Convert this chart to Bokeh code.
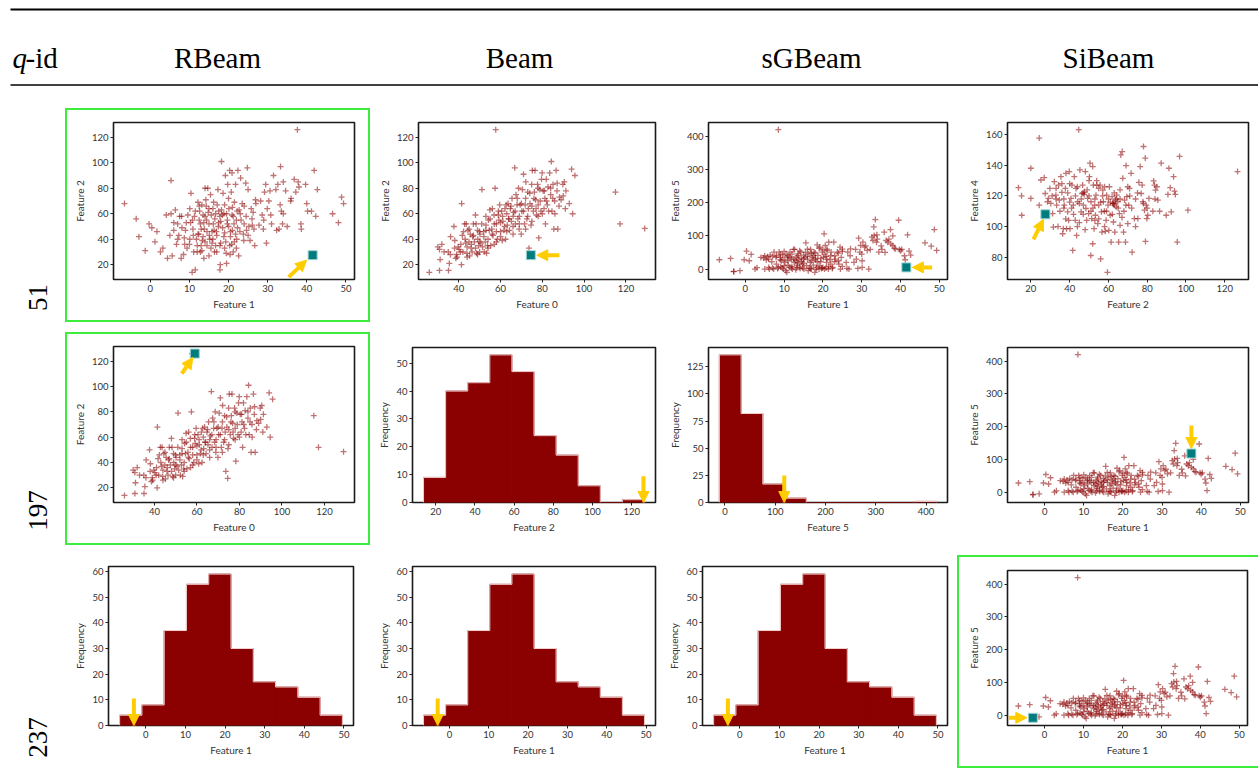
import numpy as np
from bokeh.plotting import figure
from bokeh.layouts import row, column
from bokeh.models import Range1d, FixedTicker, Arrow, NormalHead, Spacer
from bokeh.core.properties import value
from bokeh.embed import file_html
from bokeh.resources import INLINE

# ---------------------------------------------------------------- data
methods = ["RBeam", "Beam", "sGBeam", "SiBeam"]
query_ids = ["51", "197", "237"]

# Feature 1 vs Feature 2
pts_f1_f2 = [
    (-6.6, 68), (-3.6, 56), (-2.9, 42), (-1.3, 31), (-0.3, 52), (0.4, 49), (1.2, 38), (1.7, 46), (2.6, 30), (3.2, 33),
    (4.1, 59), (4.4, 25), (5.0, 43), (5.3, 86), (5.6, 27), (5.3, 60), (6.0, 53), (6.4, 63), (6.7, 36), (7.0, 52),
    (7.3, 43), (7.5, 58), (7.9, 25), (8.1, 49), (8.5, 28), (8.7, 41), (9.2, 53), (9.4, 33), (9.6, 59), (10.1, 40),
    (10.1, 64), (10.3, 53), (10.4, 76), (10.7, 14), (10.9, 48), (11.1, 30), (11.3, 58), (11.5, 16), (12.0, 35), (12.2, 69),
    (12.4, 44), (12.6, 62), (12.8, 52), (12.8, 30), (13.2, 67), (13.3, 39), (13.5, 59), (13.7, 25), (13.8, 48), (14.0, 80),
    (14.2, 71), (14.4, 55), (14.5, 35), (14.7, 80), (15.0, 64), (15.1, 43), (15.4, 75), (15.6, 59), (15.8, 37), (16.1, 52),
    (16.2, 69), (16.4, 30), (16.7, 60), (16.9, 46), (17.1, 67), (17.3, 79), (17.5, 53), (17.8, 16), (17.8, 35), (17.9, 20),
    (18.2, 101), (18.4, 59), (18.6, 76), (18.8, 42), (19.0, 67), (19.2, 90), (19.4, 29), (19.5, 21), (19.7, 55), (19.8, 83),
    (20.1, 64), (20.3, 94), (20.3, 35), (20.5, 46), (20.7, 77), (20.9, 92), (20.9, 59), (21.2, 30), (21.4, 52), (21.5, 69),
    (21.8, 83), (22.1, 40), (22.2, 62), (22.4, 94), (22.6, 27), (22.9, 46), (23.1, 88), (23.2, 55), (23.5, 68), (23.9, 39),
    (24.4, 84), (24.6, 47), (24.8, 96), (25.0, 79), (25.2, 50), (25.5, 39), (26.1, 51), (26.3, 61), (26.5, 48), (26.7, 35),
    (26.9, 71), (27.8, 51), (28.2, 70), (28.6, 59), (28.9, 48), (29.2, 77), (29.5, 83), (29.7, 37), (29.9, 64), (30.3, 70),
    (30.6, 78), (30.8, 59), (31.5, 90), (32.1, 79), (32.3, 47), (32.6, 83), (32.9, 48), (33.2, 67), (33.3, 97), (33.5, 62),
    (33.8, 52), (34.0, 85), (34.6, 78), (35.9, 70), (36.8, 87), (37.2, 77), (37.6, 126), (37.8, 85), (38.0, 81), (38.5, 52),
    (38.6, 48), (39.7, 83), (40.0, 68), (40.2, 62), (41.2, 62), (41.9, 94), (42.3, 58), (42.7, 79), (46.6, 60), (48.1, 53),
    (48.9, 73), (49.4, 68), (41.5, 27.5),
    (12.5, 55), (13.0, 48), (13.5, 42), (14.0, 38), (14.5, 46), (15.0, 52), (15.5, 33), (16.0, 40), (16.5, 56), (17.0, 43),
    (17.5, 62), (18.0, 37), (18.5, 49), (19.0, 33), (19.5, 60), (20.0, 50), (20.5, 42), (21.0, 65), (21.5, 38), (22.0, 55),
    (11.0, 43), (11.5, 62), (12.0, 30), (12.5, 66), (13.0, 35), (14.0, 58), (15.0, 27), (16.0, 64), (17.0, 30), (18.0, 54),
    (19.0, 45), (20.0, 72), (21.0, 47), (22.0, 33), (23.0, 60), (24.0, 52), (9.0, 47), (10.0, 36), (8.0, 58), (7.0, 40),
    (13.2, 31), (14.8, 61), (16.3, 47), (17.8, 58), (19.3, 38), (20.8, 36), (22.3, 49), (23.8, 44), (24.5, 58), (25.0, 43),
    (12.2, 44), (13.7, 53), (15.2, 40), (16.7, 35), (18.2, 63), (19.7, 52), (21.2, 58), (22.7, 63), (6.0, 47), (10.8, 55),
    (14.3, 66), (17.4, 50), (20.4, 28), (24.0, 66), (26.0, 56), (27.0, 68), (31.0, 52), (34.0, 60), (36.0, 72), (29.0, 55),
    (35.0, 50), (8.8, 36), (11.8, 40), (15.8, 46), (18.8, 60), (21.8, 44), (25.8, 64),
]

# Feature 0 vs Feature 2
pts_f0_f2 = [
    (25.9, 14), (30.0, 34), (30.8, 32), (31.1, 24), (30.8, 15.5), (31.9, 36), (35.0, 30), (35.1, 15.5), (35.5, 21), (36.1, 42),
    (37.7, 50), (38.1, 39), (38.6, 25), (39.2, 26), (39.7, 34), (40.2, 32), (40.8, 30), (41.3, 20), (41.4, 68), (41.7, 43),
    (42.3, 46), (42.8, 52), (43.3, 37), (43.6, 52), (43.9, 29), (44.4, 47), (44.9, 38), (45.2, 27), (45.5, 44), (45.9, 33),
    (46.4, 30), (46.7, 42), (47.5, 38), (48.0, 59), (48.3, 52), (48.6, 29), (49.1, 40), (49.5, 35), (49.9, 46), (50.2, 44),
    (50.6, 37), (51.1, 79), (51.4, 34), (51.9, 46), (52.2, 30), (52.7, 38), (53.0, 51), (53.3, 29), (53.8, 35), (54.2, 55),
    (54.6, 47), (54.9, 63), (55.3, 35), (55.8, 48), (56.1, 64), (56.4, 43), (56.9, 59), (57.4, 80), (57.7, 126), (58.0, 52),
    (58.5, 40), (58.9, 59), (59.2, 55), (59.6, 67), (60.0, 46), (60.5, 62), (60.8, 39), (61.1, 54), (61.6, 47), (62.1, 64),
    (62.4, 40), (62.7, 67), (63.2, 51), (63.6, 68), (63.9, 56), (64.3, 47), (64.7, 64), (65.2, 54), (65.5, 72), (66.0, 44),
    (66.3, 61), (66.8, 96), (67.1, 52), (67.4, 75), (67.9, 67), (68.3, 56), (68.6, 80), (68.9, 48), (69.4, 67), (69.9, 44),
    (70.2, 62), (70.5, 79), (71.0, 91), (71.5, 52), (71.8, 67), (72.1, 85), (72.6, 56), (73.0, 77), (73.3, 64), (73.6, 33),
    (74.1, 68), (74.6, 51), (74.9, 83), (75.2, 94), (75.7, 62), (76.2, 77), (76.5, 94), (76.8, 71), (77.2, 59), (77.7, 83),
    (78.0, 67), (78.3, 41), (78.8, 79), (79.3, 62), (79.6, 87), (79.9, 92), (80.4, 78), (80.8, 64), (81.2, 72), (81.5, 52),
    (81.9, 87), (82.4, 67), (82.7, 81), (83.5, 92), (84.0, 75), (84.3, 101), (84.6, 62), (85.1, 83), (85.5, 48), (85.9, 70),
    (86.6, 94), (87.1, 84), (87.4, 48), (88.2, 73), (89.0, 71), (89.8, 83), (90.5, 85), (91.3, 78), (92.9, 68), (94.0, 95),
    (94.5, 60), (95.6, 90), (115.0, 77), (117.2, 52), (129.0, 48.5), (74.5, 27.5),
    (33, 30), (36, 28), (38, 33), (39, 28), (41, 36), (42, 30), (43, 40), (44, 34), (45, 48), (46, 36),
    (47, 43), (48, 33), (49, 47), (50, 38), (51, 52), (52, 42), (53, 47), (54, 40), (55, 56), (56, 44),
    (57, 52), (58, 46), (59, 62), (60, 53), (61, 58), (62, 50), (63, 60), (64, 56), (65, 66), (66, 58),
    (67, 62), (68, 72), (69, 58), (70, 68), (71, 62), (72, 72), (73, 58), (74, 76), (75, 66), (76, 72),
    (77, 64), (78, 80), (79, 70), (80, 60), (81, 78), (82, 70), (83, 62), (84, 80), (85, 72), (86, 60),
    (87, 78), (88, 66), (90, 74), (91, 64), (47, 52), (50, 30), (53, 58), (57, 36), (60, 42), (63, 46),
    (66, 50), (69, 52), (72, 48), (75, 54), (78, 58), (44, 26), (49, 28), (54, 33), (58, 38),
]

# Feature 1 vs Feature 5
pts_f1_f5 = [
    (-6.7, 28), (-3.8, 32), (-3.0, -7), (-1.4, -5), (-0.3, 28), (0.3, 54), (1.0, 25), (1.5, 44), (2.5, 0), (3.0, 4),
    (4.0, 35), (4.7, 33), (5.0, 0), (5.4, 28), (5.7, 37), (6.2, 0), (6.4, 42), (6.8, 22), (7.3, 0), (7.4, 51),
    (7.9, 35), (8.3, 2), (8.5, 420), (8.7, 51), (9.0, 28), (9.1, 7), (9.3, 25), (9.6, 42), (9.8, 0), (10.0, 53),
    (10.2, 20), (10.4, -5), (10.7, -10), (10.9, 35), (11.0, 12), (11.3, 5), (11.5, 51), (11.9, 30), (12.1, 0), (12.4, 59),
    (12.6, 20), (12.7, 59), (13.0, -2), (13.2, 35), (13.4, 12), (13.6, 46), (13.8, 28), (14.1, 2), (14.3, 51), (14.4, 32),
    (14.7, 15), (15.0, 42), (15.1, 0), (15.3, 35), (15.6, 79), (15.8, 10), (16.0, 30), (16.2, -5), (16.4, 46), (16.7, 20),
    (16.8, 59), (17.0, 0), (17.3, 35), (17.5, 12), (17.7, 51), (17.9, -10), (18.1, 28), (18.4, 5), (18.5, 73), (18.7, 41),
    (19.0, 0), (19.2, 66), (19.4, 22), (19.6, 2), (19.8, 51), (20.1, 35), (20.3, 106), (20.4, 0), (20.6, 71), (20.8, 38),
    (20.9, 20), (21.1, 56), (21.4, 0), (21.5, 81), (21.8, 28), (22.1, 51), (22.4, 2), (22.8, 81), (23.2, 30), (23.7, 51),
    (24.1, 15), (24.4, 66), (24.5, 0), (24.7, 35), (25.0, 53), (26.2, 2), (26.4, 51), (26.7, 0), (27.1, 61), (28.4, 59),
    (28.6, 30), (29.0, 2), (29.2, 93), (29.5, 51), (29.7, 71), (30.1, 25), (30.3, 81), (30.1, 5), (30.7, 66), (31.4, 56),
    (31.8, 0), (32.2, 59), (32.6, 96), (32.9, 86), (33.1, 127), (33.2, 101), (33.5, 149), (33.8, 81), (33.9, 103), (34.4, 51),
    (35.2, 59), (35.8, 111), (36.3, 86), (36.7, 81), (37.4, 119), (37.5, 76), (38.0, 71), (38.4, 63), (38.7, 61), (39.5, 147),
    (39.7, 59), (40.3, 59), (41.2, 28), (41.8, 103), (42.2, 54), (42.6, 42), (46.3, 79), (47.9, 69), (48.7, 119), (49.3, 56),
    (41.5, 5), (-3.0, -8),
    (6, 5), (7, 38), (8, 15), (9, 45), (10, 30), (11, 40), (12, 8), (13, 25), (14, 55), (15, 18),
    (16, 38), (17, 25), (18, 48), (19, 10), (20, 58), (21, 30), (22, 15), (23, 40), (24, 25), (25, 8),
    (13.5, 40), (14.5, 22), (15.5, 50), (16.5, 3), (17.5, 40), (18.5, 22), (19.5, 32), (20.5, 45), (21.5, 8), (12, 45),
    (11, 25), (10, 10), (9, 35), (8, 40), (7, 3), (6, 30), (5, 40), (14, 6), (15, 30), (16, 60),
    (17, 48), (18, 32), (19, 62), (20, 5), (21, 60), (22, 40), (23, 22), (24, 48), (25, 60), (27, 40),
    (28, 20), (12.5, 30), (13.5, 18), (11.5, 35), (10.5, 45), (22.5, 5), (19.8, 3), (20.8, 3), (18.2, 0), (16.8, 2),
    (14.8, 3), (13.2, 4), (11.8, 3), (9.5, 3), (8.5, 5), (26, 20), (30, 45), (31, 70), (34, 90), (35, 70),
    (36, 50), (40, 55), (37, 90), (38, 100), (41, 40),
]

# Feature 2 vs Feature 4
pts_f2_f4 = [
    (13.6, 125.4), (15.2, 120.1), (15.3, 107.4), (20.0, 138.1), (20.0, 118.4), (24.3, 157.8), (24.3, 114.0), (25.2, 130.4), (26.9, 131.9), (27.4, 121.6),
    (28.6, 116.2), (29.1, 118.4), (29.8, 124.9), (30.3, 115.1), (31.2, 108.5), (31.6, 99.7), (32.1, 129.3), (32.9, 120.5), (33.3, 114.0), (34.3, 127.1),
    (34.7, 117.3), (35.5, 132.6), (36.0, 122.3), (36.4, 95.3), (36.7, 98.6), (37.2, 114.0), (37.8, 124.9), (38.1, 134.8), (38.4, 98.6), (39.0, 109.6),
    (39.5, 104.1), (39.8, 135.9), (40.2, 98.6), (40.7, 118.4), (41.2, 127.1), (41.6, 84.4), (41.9, 114.0), (42.4, 132.6), (42.9, 104.1), (43.3, 124.9),
    (43.6, 94.2), (44.1, 116.2), (44.7, 163.3), (45.0, 102.6), (45.3, 137.0), (45.9, 109.6), (46.4, 121.6), (46.7, 127.1), (47.1, 114.0), (47.6, 122.7),
    (48.1, 135.9), (48.4, 111.8), (48.8, 104.1), (49.3, 118.4), (49.8, 108.5), (50.2, 132.6), (50.5, 141.4), (50.9, 81.1), (51.0, 116.2), (51.4, 105.2),
    (51.9, 139.2), (51.9, 88.8), (52.2, 127.1), (52.6, 98.6), (52.9, 114.0), (53.3, 107.4), (53.6, 120.5), (54.0, 127.1), (54.5, 101.9), (55.0, 114.0),
    (55.7, 127.1), (56.0, 78.9), (56.4, 109.6), (56.7, 96.4), (57.1, 123.8), (57.4, 116.2), (57.9, 110.0), (58.4, 96.9), (58.8, 104.1), (59.1, 120.5),
    (59.5, 70.1), (59.8, 114.0), (60.2, 97.5), (60.5, 126.0), (60.9, 107.4), (61.4, 89.9), (61.9, 119.5), (62.2, 115.1), (62.6, 103.0), (62.9, 115.1),
    (63.3, 96.4), (63.6, 117.3), (64.0, 112.9), (64.3, 120.5), (64.8, 116.2), (65.3, 89.9), (65.7, 108.5), (66.0, 100.8), (66.4, 146.8), (67.1, 149.0),
    (67.4, 131.5), (67.8, 96.4), (68.3, 117.3), (68.8, 89.9), (69.1, 139.8), (69.5, 119.5), (70.0, 101.9), (70.5, 114.0), (70.9, 124.9), (71.7, 134.8),
    (72.2, 83.3), (73.4, 105.2), (75.2, 105.2), (75.7, 128.9), (76.4, 139.2), (76.9, 121.6), (77.4, 127.1), (77.8, 116.2), (78.1, 152.3), (78.6, 110.7),
    (79.0, 144.7), (79.1, 90.3), (79.5, 114.0), (79.8, 105.2), (80.3, 107.4), (80.9, 118.4), (82.9, 110.0), (83.3, 129.8), (83.8, 127.1), (84.3, 123.8),
    (85.0, 126.0), (85.5, 117.3), (86.4, 110.0), (87.2, 141.4), (89.8, 107.4), (90.7, 121.0), (91.2, 138.1), (91.9, 125.4), (92.4, 109.6), (93.6, 132.6),
    (94.1, 123.2), (94.5, 121.0), (95.5, 89.9), (96.7, 145.8), (101.0, 110.7), (126.6, 135.9), (27.5, 108.0),
    (33, 125), (35, 110), (37, 118), (39, 122), (41, 112), (43, 120), (45, 115), (47, 108), (49, 124), (51, 110),
    (53, 118), (55, 105), (57, 120), (59, 110), (61, 116), (63, 122), (65, 112), (67, 106), (69, 114), (71, 120),
    (36, 128), (38, 105), (40, 128), (42, 108), (44, 126), (46, 118), (48, 98), (50, 120), (52, 112), (54, 130),
    (56, 116), (58, 126), (60, 118), (62, 108), (64, 118), (66, 124), (68, 110), (70, 126), (72, 112), (74, 118),
    (31, 120), (34, 100), (47, 122), (47.5, 121), (62.5, 115), (63, 114), (78, 115), (80, 112), (84, 118), (74, 100),
    (58, 100), (44, 100), (37, 112), (50, 130), (55, 125), (33, 118), (66, 118), (40, 116), (53, 104), (75, 122),
]

# histogram counts (10 equal-width bins between the feature's min and max)
f1_min, f1_max = -6.6, 49.6
f1_counts = [4, 8, 37, 55, 59, 30, 17, 15, 11, 4]
f2_min, f2_max = 13.8, 126.5
f2_counts = [9, 40, 43, 53, 47, 24, 17, 6, 0, 1]
f5_min, f5_max = -11.0, 421.0
f5_counts = [136, 82, 17, 4, 0, 0, 0, 0, 0, 1]

# queried instances
q51 = {"f0": 74.5, "f1": 41.5, "f2": 27.5, "f4": 108.0, "f5": 5.0}
q197 = {"f0": 59.0, "f1": 37.5, "f2": 126.0, "f5": 118.0}
q237 = {"f1": -3.0, "f5": -8.0}

ticks_f0 = [40, 60, 80, 100, 120]
ticks_f1 = [0, 10, 20, 30, 40, 50]
ticks_f2 = [20, 40, 60, 80, 100, 120]
ticks_f4 = [80, 100, 120, 140, 160]
ticks_f5 = [0, 100, 200, 300, 400]

# ---------------------------------------------------------------- styling
DARK_RED = "#8b0000"
TEAL = "#007b7e"
GOLD = "#ffcc00"
GREEN = "#3ded3d"
SANS = "Lato"
SERIF = "Liberation Serif"


def padded(lo, hi, frac=0.05):
    span = hi - lo
    return (lo - frac * span, hi + frac * span)


def base_fig(box, xr, yr):
    w, h, l, r, t, b = box
    p = figure(width=w, height=h, x_range=Range1d(*xr), y_range=Range1d(*yr),
               toolbar_location=None, output_backend="svg", title=None,
               min_border_left=l, min_border_right=r, min_border_top=t, min_border_bottom=b,
               background_fill_color="white", border_fill_color="white",
               outline_line_color="#1a1a1a", outline_line_width=1.6)
    p.grid.visible = False
    return p


def style_axes(p, xlabel, ylabel, xticks, yticks):
    p.xaxis.axis_label = xlabel
    p.yaxis.axis_label = ylabel
    p.xaxis.ticker = FixedTicker(ticks=xticks)
    p.yaxis.ticker = FixedTicker(ticks=yticks)
    for ax in p.axis:
        ax.axis_line_color = None
        ax.major_tick_line_color = "#222222"
        ax.major_tick_line_width = 1
        ax.major_tick_out = 3
        ax.major_tick_in = 0
        ax.minor_tick_line_color = None
        ax.major_label_text_font = SANS
        ax.major_label_text_font_size = "9.5px"
        ax.major_label_text_color = "#333333"
        ax.major_label_standoff = 2
        ax.axis_label_text_font = SANS
        ax.axis_label_text_font_size = "10px"
        ax.axis_label_text_font_style = "normal"
        ax.axis_label_text_color = "#333333"
        ax.axis_label_standoff = 3


def pointer(p, box, xr, yr, target, tail_px, tip_px):
    # arrow given as pixel offsets (right / down) from the target point
    w, h, l, r, t, b = box
    kx = (xr[1] - xr[0]) / (w - l - r)
    ky = (yr[1] - yr[0]) / (h - t - b)
    p.add_layout(Arrow(
        end=NormalHead(size=11, fill_color=GOLD, line_color=GOLD, line_width=1),
        x_start=target[0] + tail_px[0] * kx, y_start=target[1] - tail_px[1] * ky,
        x_end=target[0] + tip_px[0] * kx, y_end=target[1] - tip_px[1] * ky,
        line_color=GOLD, line_width=4))


def scatter_cell(box, pts, xlabel, ylabel, xticks, yticks, target, tail_px, tip_px):
    xs = [pt[0] for pt in pts]
    ys = [pt[1] for pt in pts]
    xr = padded(min(xs), max(xs))
    yr = padded(min(ys), max(ys))
    p = base_fig(box, xr, yr)
    style_axes(p, xlabel, ylabel, xticks, yticks)
    p.scatter(xs, ys, marker="cross", size=6, line_color=DARK_RED, line_alpha=0.55, line_width=1.3)
    p.scatter([target[0]], [target[1]], marker="square", size=9, fill_color=TEAL,
              line_color="#9fd3d3", line_width=1)
    pointer(p, box, xr, yr, target, tail_px, tip_px)
    return p


def hist_cell(box, lo, hi, counts, xlabel, xticks, yticks, mark_x):
    edges = np.linspace(lo, hi, len(counts) + 1)
    xr = padded(lo, hi)
    yr = (0, max(counts) * 1.05)
    p = base_fig(box, xr, yr)
    style_axes(p, xlabel, "Frequency", xticks, yticks)
    # bars stroked in their own colour so neighbouring bars merge into one shape
    p.quad(left=edges[:-1], right=edges[1:], bottom=0, top=counts,
           fill_color=DARK_RED, line_color=DARK_RED, line_width=1)
    # light outline around the filled step shape only
    x0, y0, x1, y1 = [], [], [], []
    prev = 0
    for i, c in enumerate(list(counts) + [0]):
        if c != prev:
            x0.append(edges[i]); y0.append(prev); x1.append(edges[i]); y1.append(c)
        if i < len(counts) and c > 0:
            x0.append(edges[i]); y0.append(c); x1.append(edges[i + 1]); y1.append(c)
        prev = c
    p.segment(x0=x0, y0=y0, x1=x1, y1=y1, line_color="#f2d0d0", line_width=1)
    pointer(p, box, xr, yr, (mark_x, 0), (0, -27), (0, 0))
    return p


def boxed(p, left, top, right, bottom, sides="ltrb"):
    # green highlight frame around a whole cell, padded out with spacers
    shadows = []
    if "l" in sides:
        shadows.append(f"inset 2px 0 0 0 {GREEN}")
    if "t" in sides:
        shadows.append(f"inset 0 2px 0 0 {GREEN}")
    if "r" in sides:
        shadows.append(f"inset -2px 0 0 0 {GREEN}")
    if "b" in sides:
        shadows.append(f"inset 0 -2px 0 0 {GREEN}")
    p.styles = {"box-shadow": ", ".join(shadows)}
    p.border_fill_alpha = 0
    col = column(Spacer(width=p.width, height=top), p, Spacer(width=p.width, height=bottom), spacing=0)
    parts = []
    if left:
        parts.append(Spacer(width=left, height=top + p.height + bottom))
    parts.append(col)
    if right:
        parts.append(Spacer(width=right, height=top + p.height + bottom))
    return row(*parts, spacing=0)


# ---------------------------------------------------------------- cells
# (width, height, border left, right, top, bottom)
row1 = [
    boxed(scatter_cell((305, 214, 48, 16, 14, 43), pts_f1_f2, "Feature 1", "Feature 2", ticks_f1, ticks_f2,
                       (q51["f1"], q51["f2"]), (-24, 22), (-6, 5)), 5, 8, 5, 6),
    scatter_cell((290, 228, 39, 10, 22, 49), pts_f0_f2, "Feature 0", "Feature 2", ticks_f0, ticks_f2,
                 (q51["f0"], q51["f2"]), (29, 0), (6, 0)),
    scatter_cell((290, 228, 41, 8, 22, 49), pts_f1_f5, "Feature 1", "Feature 5", ticks_f1, ticks_f5,
                 (q51["f1"], q51["f5"]), (26, 0), (6, 0)),
    scatter_cell((303, 228, 52, 10, 22, 49), pts_f2_f4, "Feature 2", "Feature 4", ticks_f2, ticks_f4,
                 (q51["f2"], q51["f4"]), (-12, 25), (-2, 5)),
]

row2 = [
    boxed(scatter_cell((305, 213, 48, 16, 14, 43), pts_f0_f2, "Feature 0", "Feature 2", ticks_f0, ticks_f2,
                       (q197["f0"], q197["f2"]), (-13, 20), (-2, 4)), 5, 4, 5, 5),
    hist_cell((290, 222, 34, 10, 14, 48), f2_min, f2_max, f2_counts, "Feature 2", ticks_f2,
              [0, 10, 20, 30, 40, 50], q197["f2"]),
    hist_cell((290, 222, 41, 8, 19, 48), f5_min, f5_max, f5_counts, "Feature 5", ticks_f5,
              [0, 25, 50, 75, 100, 125], q197["f5"]),
    scatter_cell((303, 222, 52, 10, 19, 48), pts_f1_f5, "Feature 1", "Feature 5", ticks_f1, ticks_f5,
                 (q197["f1"], q197["f5"]), (0, -28), (0, -5)),
]

row3 = [
    hist_cell((315, 229, 48, 22, 16, 54), f1_min, f1_max, f1_counts, "Feature 1", ticks_f1,
              [0, 10, 20, 30, 40, 50, 60], q237["f1"]),
    hist_cell((290, 229, 29, 10, 16, 54), f1_min, f1_max, f1_counts, "Feature 1", ticks_f1,
              [0, 10, 20, 30, 40, 50, 60], q237["f1"]),
    hist_cell((290, 229, 33, 8, 16, 54), f1_min, f1_max, f1_counts, "Feature 1", ticks_f1,
              [0, 10, 20, 30, 40, 50, 60], q237["f1"]),
    boxed(scatter_cell((301, 213, 50, 11, 15, 43), pts_f1_f5, "Feature 1", "Feature 5", ticks_f1, ticks_f5,
                       (q237["f1"], q237["f5"]), (-24, 0), (-6, 0)), 2, 5, 0, 11, sides="ltb"),
]

# ---------------------------------------------------------------- table frame
header = figure(width=1258, height=100, x_range=Range1d(0, 1258), y_range=Range1d(100, 0),
                toolbar_location=None, output_backend="svg", title=None, min_border=0,
                x_axis_type=None, y_axis_type=None, outline_line_color=None,
                background_fill_color="white", border_fill_color="white")
header.grid.visible = False
header.segment(x0=[10, 10], x1=[1258, 1258], y0=[9, 84.5], y1=[9, 84.5],
               line_width=[2.2, 1.5], line_color="black")
header.text(x=[12], y=[57], text=["q"], text_font=value(SERIF), text_font_size="29px",
            text_font_style="italic", text_baseline="alphabetic", text_color="black")
header.text(x=[25], y=[57], text=["-id"], text_font=value(SERIF), text_font_size="29px",
            text_baseline="alphabetic", text_color="black")
header.text(x=[217, 519, 811, 1108], y=[57] * 4, text=methods, text_font=value(SERIF),
            text_font_size="29px", text_align="center", text_baseline="alphabetic",
            text_color="black")

labels = figure(width=60, height=679, x_range=Range1d(0, 60), y_range=Range1d(679, 0),
                toolbar_location=None, output_backend="svg", title=None, min_border=0,
                x_axis_type=None, y_axis_type=None, outline_line_color=None,
                background_fill_color="white", border_fill_color="white")
labels.grid.visible = False
labels.text(x=[37, 37, 37], y=[197, 410, 637], text=query_ids, angle=np.pi / 2,
            text_font=value(SERIF), text_font_size="27px", text_align="center",
            text_baseline="middle", text_color="black")

grid = column(row(*row1, spacing=0), row(*row2, spacing=0), row(*row3, spacing=0), spacing=0)
page = column(header, row(labels, grid, spacing=0), spacing=0)

open("out.html", "w").write(file_html(page, INLINE, title="q-id"))
